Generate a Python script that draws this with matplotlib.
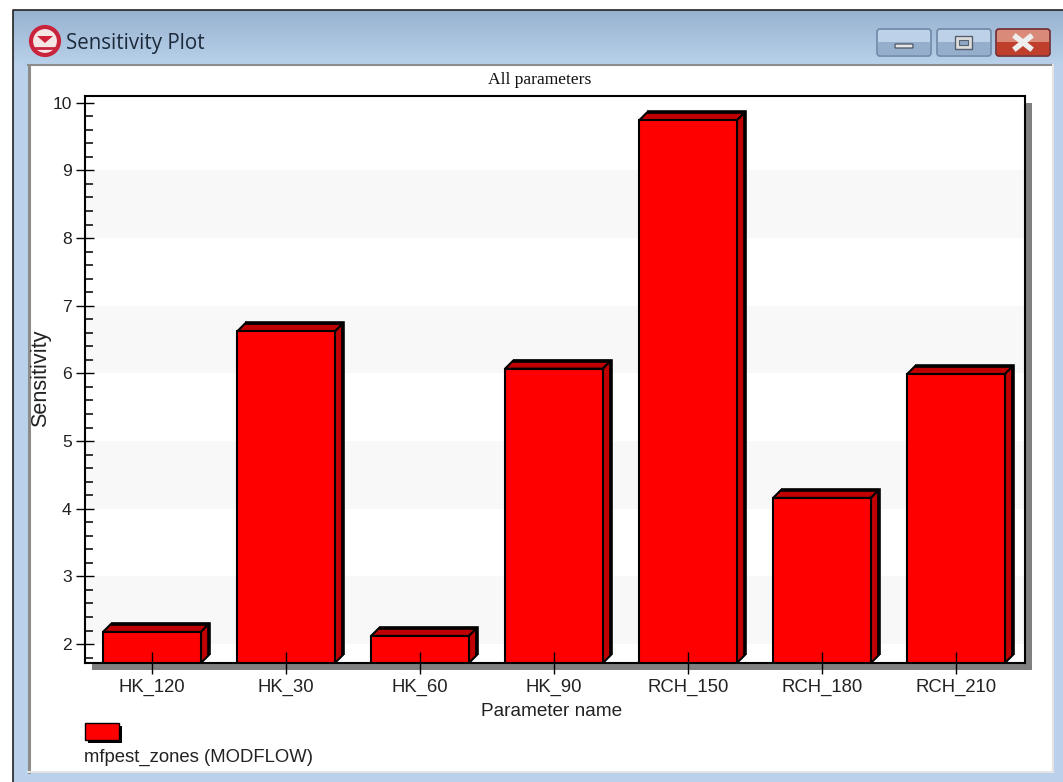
import matplotlib
matplotlib.use("Agg")
import matplotlib.pyplot as plt
import numpy as np
from matplotlib.patches import Circle, FancyBboxPatch, Polygon, Rectangle
from matplotlib.ticker import MultipleLocator

parameters = ["HK_120", "HK_30", "HK_60", "HK_90", "RCH_150", "RCH_180", "RCH_210"]
sensitivity = [2.18, 6.62, 2.12, 6.07, 9.74, 4.16, 5.99]
band_starts = [2, 4, 6, 8]
y_ticks = [2, 3, 4, 5, 6, 7, 8, 9, 10]

W, H = 1063, 782
fig = plt.figure(figsize=(W / 100, H / 100), dpi=100, facecolor="white")

# window frame, drawn in pixel coordinates
bg = fig.add_axes([0, 0, 1, 1])
bg.set_xlim(0, W)
bg.set_ylim(H, 0)
bg.axis("off")

grad = np.linspace(0, 1, 60).reshape(-1, 1)
bg.imshow(grad, extent=[13, W, 65, 10], cmap=matplotlib.colors.LinearSegmentedColormap.from_list(
    "title", ["#97b2d0", "#b9d1ea"]), aspect="auto", zorder=1)
bg.add_patch(Rectangle((13, 65), W - 13, H - 65, fc="#b9d1ea", ec="none", zorder=1))
bg.plot([13, 13, W], [H, 10, 10], color="#222222", lw=1.2, zorder=2)
bg.add_patch(Rectangle((28, 65), 1025, 707, fc="white", ec="none", zorder=2))
bg.plot([29, 29], [772, 65], color="#8c8c8c", lw=2.2, zorder=3)
bg.plot([28, 1053], [65, 65], color="#8c8c8c", lw=1.5, zorder=3)
bg.plot([28, 1053], [772, 772], color="#e4e4e4", lw=1.5, zorder=3)
bg.plot([1053, 1053], [65, 772], color="#e4e4e4", lw=1.5, zorder=3)
bg.set_xlim(0, W)
bg.set_ylim(H, 0)

# title bar icon and text
bg.add_patch(Circle((45, 41), 14, fc="#f5e6e6", ec="#c9243c", lw=3, zorder=4))
bg.add_patch(Polygon([[37, 36], [53, 36], [45, 43]], fc="#d0203a", ec="none", zorder=5))
bg.plot([36, 54], [48, 48], color="#c9243c", lw=2, zorder=5)
bg.text(66, 43, "Sensitivity Plot", fontsize=14.8, family="Open Sans", color="#1c2a3a",
        va="center", ha="left", zorder=5)

# window buttons, lighter top half and darker lower half
for x0, w, top, low, ec in [(877, 54, "#bdd2e8", "#95aecb", "#6f88a6"),
                            (937, 54, "#bdd2e8", "#95aecb", "#6f88a6"),
                            (996, 54, "#d98a78", "#bf3f2c", "#6e2a30")]:
    bg.add_patch(FancyBboxPatch((x0, 29), w, 27, boxstyle="round,pad=0,rounding_size=3",
                                fc=top, ec=ec, lw=1.2, zorder=4))
    bg.add_patch(Rectangle((x0 + 1, 42), w - 2, 13, fc=low, ec="none", zorder=4.5))
bg.add_patch(FancyBboxPatch((895, 44), 18, 4, boxstyle="round,pad=0,rounding_size=1",
                            fc="#e8e8e8", ec="#555f6e", lw=1, zorder=5))
bg.add_patch(Rectangle((955, 36), 17, 13, fc="#dddddd", ec="#555f6e", lw=1, zorder=5))
bg.add_patch(Rectangle((959, 40), 9, 5, fc="#8fa8c6", ec="#555f6e", lw=0.8, zorder=5.5))
bg.plot([1016, 1030], [37, 48], color="#eeeeee", lw=4, zorder=5)
bg.plot([1016, 1030], [48, 37], color="#eeeeee", lw=4, zorder=5)

# plot shadow
bg.add_patch(Rectangle((1025, 103), 7, 567, fc="#808080", ec="none", zorder=3))
bg.add_patch(Rectangle((92, 663), 940, 7, fc="#808080", ec="none", zorder=3))

# legend
bg.add_patch(Rectangle((88, 726), 34, 17, fc="black", ec="none", zorder=4))
bg.add_patch(Rectangle((85, 723), 34, 17, fc="#ff0000", ec="black", lw=1, zorder=5))
bg.text(84, 757, "mfpest_zones (MODFLOW)", fontsize=13.3, family="Liberation Sans",
        color="#222222", va="center", ha="left", zorder=5)

# chart
ax = fig.add_axes([85 / W, 1 - 663 / H, 940 / W, 567 / H], facecolor="white")
ax.set_xlim(-0.5, 6.515)
ax.set_ylim(1.72, 10.1)
ax.set_zorder(2)

for b in band_starts:
    ax.axhspan(b, b + 1, color="#f8f8f8", lw=0, zorder=0)

bar_w = 0.73
dx = 8 / (940 / 7.015)
dy = 8 / (567 / 8.38)
x = np.arange(len(parameters))
y0 = ax.get_ylim()[0]
ax.bar(x, sensitivity, width=bar_w, bottom=0, color="#ff0000", edgecolor="black", lw=1.5, zorder=1.5)
for xi, val in zip(x, sensitivity):
    l, r = xi - bar_w / 2, xi + bar_w / 2
    ax.add_patch(Polygon([[l, val], [l + dx, val + dy], [r + dx, val + dy], [r, val]],
                         fc="#c00000", ec="black", lw=1.5, zorder=1.2))
    ax.add_patch(Polygon([[r, val], [r + dx, val + dy], [r + dx, y0 + dy], [r, y0]],
                         fc="#c00000", ec="black", lw=1.5, zorder=1.2))
    # heavy far edges of the box
    ax.plot([l + dx, r + dx, r + dx], [val + dy, val + dy, y0 + dy], color="black", lw=2.6,
            solid_capstyle="butt", solid_joinstyle="miter", zorder=1.3)

ax.set_xticks(x)
ax.set_xticklabels(parameters, fontsize=13.3, family="Liberation Sans", color="#222222")
ax.set_yticks(y_ticks)
ax.set_yticklabels([str(t) for t in y_ticks], fontsize=12.6, family="Liberation Sans", color="#222222")
ax.yaxis.set_minor_locator(MultipleLocator(0.2))
ax.set_axisbelow(False)
ax.tick_params(axis="x", direction="inout", length=16.5, width=1, pad=3)
ax.tick_params(axis="y", which="major", direction="inout", length=13, width=1, pad=3)
ax.tick_params(axis="y", which="minor", direction="in", length=5.8, width=1.1)
for s in ax.spines.values():
    s.set_linewidth(1.5)
    s.set_color("black")
    s.set_zorder(6)

bg.text(540, 80, "All parameters", fontsize=12.6, family="Liberation Serif", color="#111111",
        ha="center", va="center", zorder=5)
bg.text(552, 711, "Parameter name", fontsize=13.7, family="Liberation Sans", color="#222222",
        ha="center", va="center", zorder=5)
bg.text(41, 378, "Sensitivity", fontsize=15.6, family="Liberation Sans", color="#222222",
        rotation=90, ha="center", va="center", zorder=5)

fig.savefig("out.png", dpi=100)
